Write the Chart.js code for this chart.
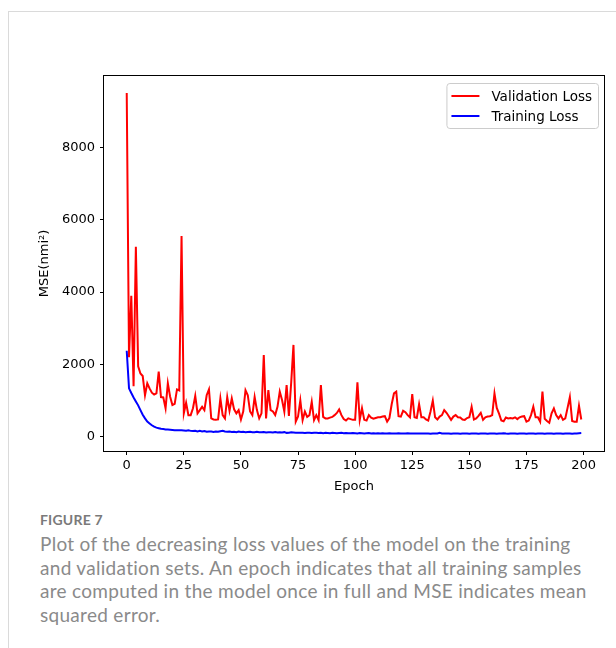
<!DOCTYPE html>
<html>
<head>
<meta charset="utf-8">
<script src="https://cdn.jsdelivr.net/npm/chart.js@4.4.1/dist/chart.umd.min.js"></script>
<style>
  html, body { margin: 0; padding: 0; background: #fff; }
  body { width: 616px; height: 648px; position: relative; overflow: hidden; }
  .card { position: absolute; left: 8px; top: 11px; width: 640px; height: 700px;
          border-top: 1px solid #dadada; border-left: 1px solid #dadada; }
  .chart-box { position: absolute; left: 0; top: 0; width: 616px; height: 500px; }
  .caption { position: absolute; left: 40px; top: 508px; width: 576px; white-space: nowrap;
             font-family: Lato, "Open Sans", sans-serif; color: #8a8a8a; }
  .caption .fig { font-size: 14px; font-weight: 700; color: #7a7a7a; line-height: 24px; letter-spacing: 0.2px; }
  .caption .text { font-size: 19px; line-height: 23.7px; letter-spacing: 0.3px; }
</style>
</head>
<body>
<div class="card"></div>
<div class="chart-box"><canvas id="lossChart"></canvas></div>
<div class="caption">
  <div class="fig">FIGURE 7</div>
  <div class="text">Plot of the decreasing loss values of the model on the training<br>and validation sets. An epoch indicates that all training samples<br>are computed in the model once in full and MSE indicates mean<br>squared error.</div>
</div>

<script>
// epochs 0..199
const epochs = Array.from({ length: 200 }, (_, i) => i);

const valLoss = [
  9500, 2200, 3900, 1400, 5250, 1950, 1750, 1680, 1150, 1480,
  1340, 1220, 1170, 1200, 1800, 1100, 1090, 790, 1480, 1110,
  880, 910, 1310, 1280, 5550, 650, 940, 600, 600, 790,
  1130, 650, 740, 830, 740, 1150, 1310, 510, 480, 470,
  480, 1060, 600, 510, 1100, 720, 1060, 760, 650, 740,
  480, 700, 1290, 1150, 700, 600, 1100, 740, 510, 650,
  2260, 510, 1290, 740, 700, 600, 830, 1250, 1020, 700,
  1430, 580, 1500, 2540, 420, 560, 1010, 460, 700, 550,
  600, 970, 460, 600, 460, 1430, 550, 510, 510, 530,
  550, 600, 660, 760, 600, 490, 450, 510, 490, 470,
  470, 1510, 470, 790, 470, 450, 600, 530, 500, 520,
  540, 540, 560, 570, 420, 520, 900, 1200, 1250, 570,
  560, 720, 680, 600, 540, 1180, 540, 520, 900, 540,
  540, 480, 450, 700, 1000, 540, 480, 560, 600, 740,
  665, 570, 470, 560, 600, 540, 535, 480, 470, 520,
  540, 830, 480, 510, 580, 665, 470, 540, 560, 570,
  600, 1200, 800, 640, 450, 430, 535, 510, 520, 510,
  540, 490, 540, 560, 570, 420, 450, 600, 830, 540,
  540, 420, 1250, 500, 440, 390, 650, 785, 600, 510,
  600, 470, 510, 800, 1100, 440, 420, 420, 860, 480
];

const trainLoss = [
  2380, 1340, 1210, 1090, 980, 870, 740, 610, 510, 420,
  370, 320, 280, 255, 240, 225, 215, 205, 200, 195,
  190, 185, 185, 180, 180, 175, 170, 180, 165, 160,
  170, 150, 165, 150, 160, 140, 150, 145, 135, 150,
  140, 155, 170, 150, 140, 145, 135, 140, 130, 145,
  135, 140, 130, 135, 140, 130, 125, 140, 130, 125,
  135, 120, 130, 125, 120, 135, 120, 125, 120, 130,
  110, 115, 125, 120, 115, 110, 115, 110, 105, 115,
  110, 105, 115, 110, 105, 110, 100, 110, 105, 100,
  110, 105, 100, 105, 110, 100, 105, 100, 100, 105,
  100, 95, 105, 100, 95, 100, 105, 95, 100, 95,
  100, 95, 100, 95, 90, 100, 95, 90, 95, 100,
  95, 90, 95, 100, 90, 95, 90, 95, 90, 95,
  90, 95, 90, 85, 95, 90, 95, 110, 95, 90,
  90, 95, 85, 90, 95, 90, 85, 90, 95, 90,
  85, 90, 95, 90, 85, 90, 95, 90, 85, 90,
  95, 90, 85, 90, 95, 100, 90, 85, 90, 95,
  90, 85, 90, 95, 90, 85, 90, 95, 90, 85,
  90, 95, 90, 85, 90, 95, 90, 85, 90, 95,
  90, 85, 90, 95, 90, 85, 90, 95, 100, 105
];

const seriesLabels = ["Validation Loss", "Training Loss"];
const seriesColors = ["#ff0000", "#0000ff"];

const xTicks = [0, 25, 50, 75, 100, 125, 150, 175, 200];
const yTicks = [0, 2000, 4000, 6000, 8000];

const FONT = "DejaVu Sans";

// black box round the plot area, like matplotlib spines
const frame = {
  id: "frame",
  afterDatasetsDraw(chart) {
    const { ctx, chartArea: a } = chart;
    ctx.save();
    ctx.strokeStyle = "#000";
    ctx.lineWidth = 1;
    ctx.strokeRect(Math.round(a.left) - 0.5, Math.round(a.top) - 0.5,
                   Math.round(a.right - a.left) + 1, Math.round(a.bottom - a.top) + 1);
    ctx.restore();
  }
};

// legend inside the top right corner with a rounded box
const boxLegend = {
  id: "boxLegend",
  afterDraw(chart) {
    const { ctx, chartArea: a } = chart;
    const sets = chart.data.datasets;
    ctx.save();
    ctx.font = "13.5px '" + FONT + "'";
    const textW = Math.max(...sets.map(d => ctx.measureText(d.label).width));
    const w = 5 + 28 + 12 + textW + 6;
    const h = 45;
    const x = a.right - 6 - w;
    const y = a.top + 7;
    ctx.beginPath();
    ctx.roundRect(x + 0.5, y + 0.5, w, h, 3);
    ctx.fillStyle = "rgba(255,255,255,0.8)";
    ctx.fill();
    ctx.strokeStyle = "#cccccc";
    ctx.lineWidth = 1;
    ctx.stroke();
    sets.forEach((d, i) => {
      const yy = y + 13 + i * 20;
      ctx.beginPath();
      ctx.moveTo(x + 5, yy);
      ctx.lineTo(x + 33, yy);
      ctx.strokeStyle = d.borderColor;
      ctx.lineWidth = 2;
      ctx.stroke();
      ctx.fillStyle = "#000";
      ctx.textBaseline = "middle";
      ctx.fillText(d.label, x + 45, yy + 1);
    });
    ctx.restore();
  }
};

new Chart(document.getElementById("lossChart"), {
  type: "line",
  data: {
    datasets: [
      {
        label: seriesLabels[0],
        data: epochs.map((e, i) => ({ x: e, y: valLoss[i] })),
        borderColor: seriesColors[0],
        backgroundColor: seriesColors[0],
        borderWidth: 2,
        pointRadius: 0,
        tension: 0
      },
      {
        label: seriesLabels[1],
        data: epochs.map((e, i) => ({ x: e, y: trainLoss[i] })),
        borderColor: seriesColors[1],
        backgroundColor: seriesColors[1],
        borderWidth: 2,
        pointRadius: 0,
        tension: 0
      }
    ]
  },
  options: {
    responsive: true,
    maintainAspectRatio: false,
    animation: false,
    layout: { padding: { top: 76, right: 12, left: 33, bottom: 2 } },
    plugins: {
      legend: { display: false },
      tooltip: { enabled: false }
    },
    scales: {
      x: {
        type: "linear",
        min: -9.95,
        max: 208.95,
        afterBuildTicks(scale) { scale.ticks = xTicks.map(v => ({ value: v })); },
        afterFit(scale) { scale.height = 47; },
        border: { display: false },
        grid: { drawOnChartArea: false, drawTicks: true, tickLength: 4, color: "#000" },
        ticks: {
          padding: 3,
          color: "#000",
          font: { family: FONT, size: 13 },
          maxRotation: 0,
          autoSkip: false
        },
        title: {
          display: true,
          text: "Epoch",
          color: "#000",
          font: { family: FONT, size: 13 },
          padding: { top: 4, bottom: 4 }
        }
      },
      y: {
        min: -391,
        max: 9971,
        afterBuildTicks(scale) { scale.ticks = yTicks.map(v => ({ value: v })); },
        afterFit(scale) { scale.width = 71; },
        border: { display: false },
        grid: { drawOnChartArea: false, drawTicks: true, tickLength: 4, color: "#000" },
        ticks: {
          padding: 5,
          color: "#000",
          font: { family: FONT, size: 13 },
          autoSkip: false,
          callback: v => String(v)
        },
        title: {
          display: true,
          text: "MSE(nmi²)",
          color: "#000",
          font: { family: FONT, size: 13 },
          padding: { top: 4, bottom: 4 }
        }
      }
    }
  },
  plugins: [frame, boxLegend]
});
</script>
</body>
</html>
